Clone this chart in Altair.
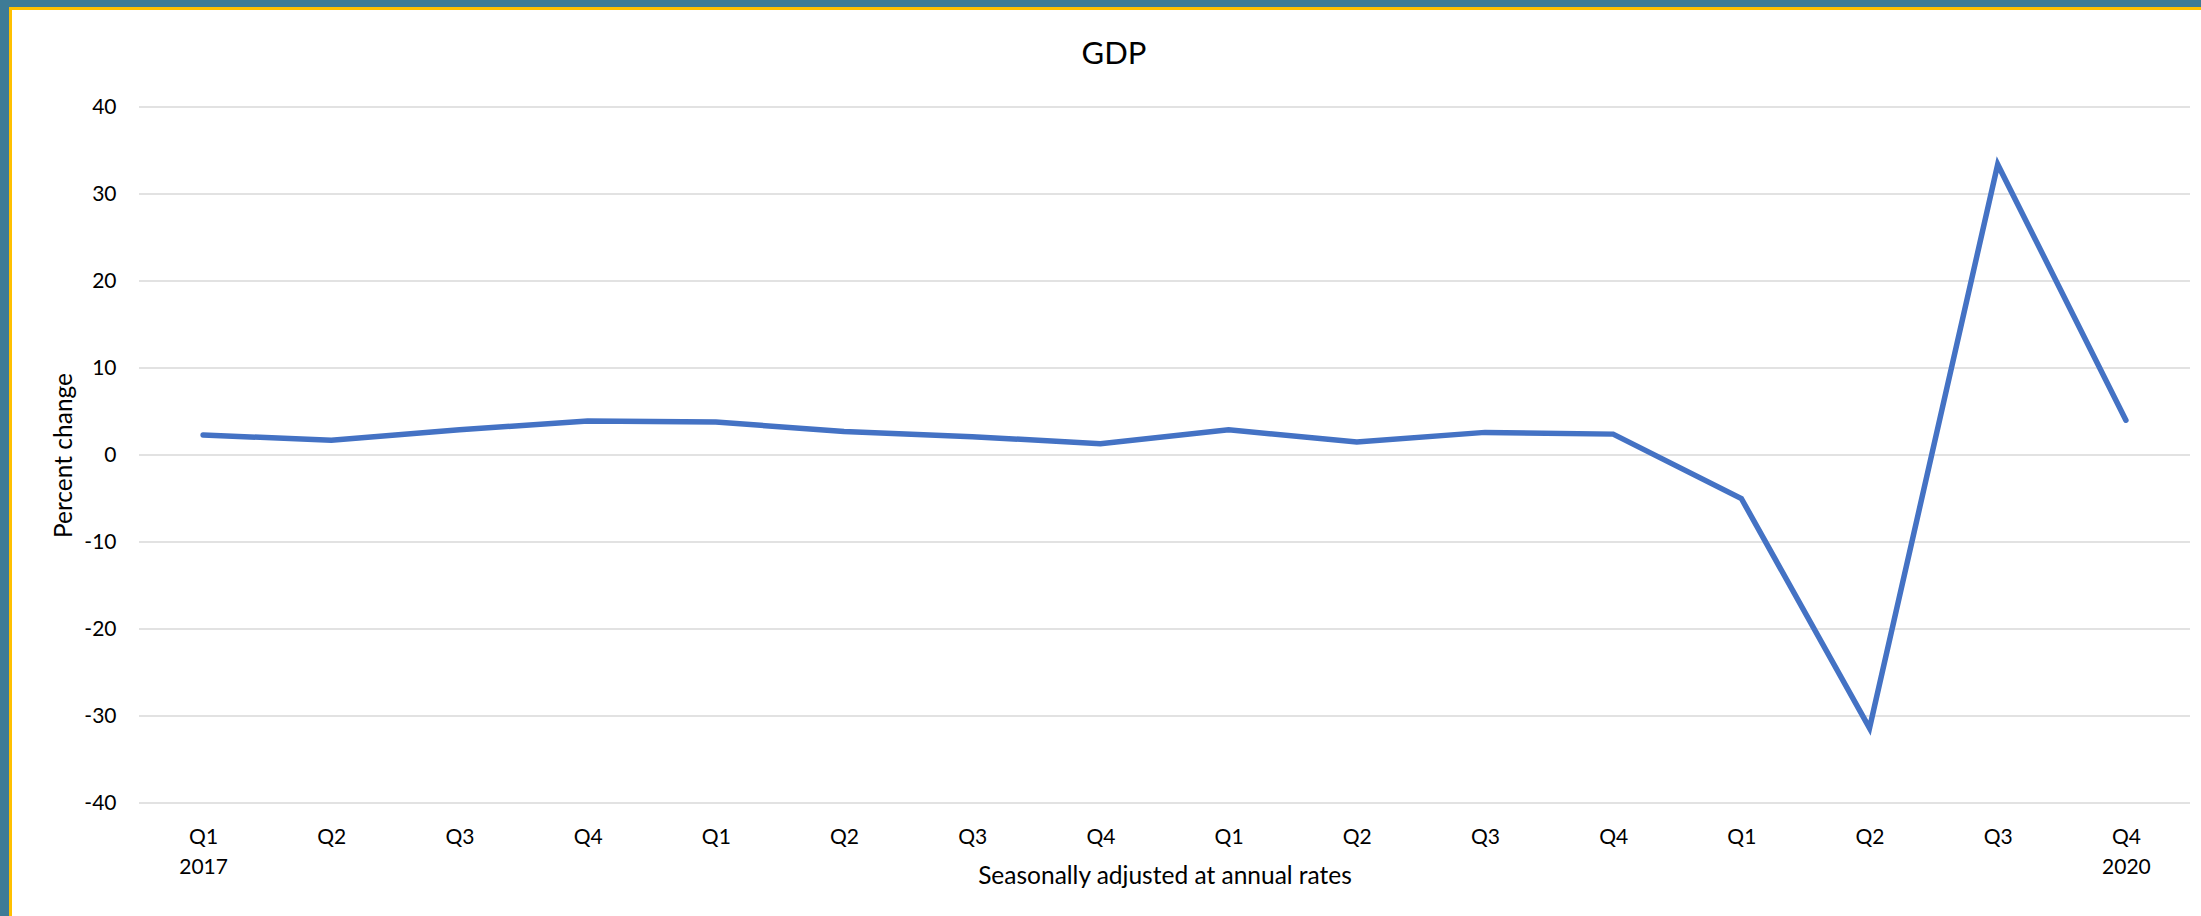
import altair as alt
import pandas as pd

# ---- data ----
years = ["2017"] * 4 + ["2018"] * 4 + ["2019"] * 4 + ["2020"] * 4
quarters = ["Q1", "Q2", "Q3", "Q4"] * 4
gdp_change = [2.3, 1.7, 2.9, 3.9,
              3.8, 2.7, 2.1, 1.3,
              2.9, 1.5, 2.6, 2.4,
              -5.0, -31.4, 33.4, 4.0]
y_ticks = [-40, -30, -20, -10, 0, 10, 20, 30, 40]

periods = [f"{y} {q}" for y, q in zip(years, quarters)]
df = pd.DataFrame({"period": periods, "value": gdp_change})
grid_df = pd.DataFrame({"value": y_ticks})
frame_df = pd.DataFrame({"k": [0]})

# ---- layout ----
W, H = 2051, 696
PAD_L, PAD_T = 139, 107
PAD_R = 2201 - PAD_L - W
PAD_B = 916 - PAD_T - H

FONT = "Lato"
TEAL = "#3E7B96"
GOLD = "#FFC000"

yscale = alt.Scale(domain=[-40, 40], nice=False, zero=False)

y_axis = alt.Axis(
    title="Percent change", values=y_ticks,
    labelExpr="'' + datum.value",
    labelFont=FONT, labelFontSize=21, labelColor="#000000",
    labelPadding=23, labelAlign="right", labelBaseline="middle",
    titleFont=FONT, titleFontSize=24.5, titleFontWeight="normal", titleColor="#000000",
    titleAngle=-90, titleX=-75, titleY=455 - PAD_T,
    titleAlign="center", titleBaseline="middle",
    domain=False, ticks=False, tickSize=0, grid=False, zindex=1,
)

gold_frame = alt.Chart(frame_df).mark_rect(color=GOLD).encode(
    x=alt.value(9 - PAD_L), x2=alt.value(W + PAD_R + 10),
    y=alt.value(7 - PAD_T), y2=alt.value(H + PAD_B + 10),
)
white_frame = alt.Chart(frame_df).mark_rect(color="white").encode(
    x=alt.value(12 - PAD_L), x2=alt.value(W + PAD_R + 10),
    y=alt.value(10 - PAD_T), y2=alt.value(H + PAD_B + 10),
)

grid = alt.Chart(grid_df).mark_rule(color="#D9D9D9", strokeWidth=1.6).encode(
    y=alt.Y("value:Q", scale=yscale, axis=y_axis),
    x=alt.value(0), x2=alt.value(W),
)

label_expr = (
    "(datum.value == '2017 Q1' || datum.value == '2020 Q4') ? "
    "[split(datum.value, ' ')[1], split(datum.value, ' ')[0]] : split(datum.value, ' ')[1]"
)

line = alt.Chart(df).mark_line(
    color="#4472C4", strokeWidth=5.5, strokeCap="round"
).encode(
    x=alt.X(
        "period:O", sort=periods,
        scale=alt.Scale(type="point", padding=0.5),
        axis=alt.Axis(
            title="Seasonally adjusted at annual rates",
            labelExpr=label_expr, labelAngle=0,
            labelFont=FONT, labelFontSize=21, labelColor="#000000",
            labelBaseline="alphabetic", labelPadding=40, labelLineHeight=30,
            labelAlign="center",
            titleFont=FONT, titleFontSize=24.5, titleFontWeight="normal", titleColor="#000000",
            titleBaseline="alphabetic", titleY=80, titleX=W / 2, titleAnchor="middle",
            domain=False, ticks=False, tickSize=0, grid=False, zindex=1,
        ),
    ),
    y=alt.Y("value:Q", scale=yscale, axis=y_axis),
)

# chart title, drawn as a text mark above the plot area
title_text = alt.Chart(frame_df).mark_text(
    text="GDP", font=FONT, fontSize=31, color="#000000",
    align="center", baseline="alphabetic",
).encode(x=alt.value(1114 - PAD_L), y=alt.value(64 - PAD_T))

chart = alt.layer(gold_frame, white_frame, grid, line, title_text).properties(
    width=W, height=H,
    autosize=alt.AutoSizeParams(type="none"),
    padding={"left": PAD_L, "top": PAD_T, "right": PAD_R, "bottom": PAD_B},
    background=TEAL,
).configure_view(stroke=None)

chart.save("out.html", embed_options={"renderer": "svg", "actions": False})
